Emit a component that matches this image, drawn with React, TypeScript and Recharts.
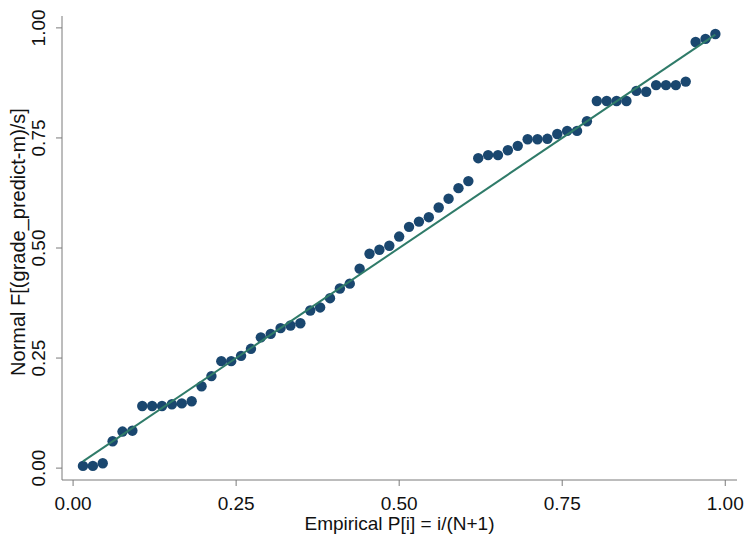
import { ScatterChart, Scatter, XAxis, YAxis } from 'recharts'

// normal F[(grade_predict-m)/s], sorted, one per observation
const normalF = [
  0.005, 0.005, 0.011, 0.061, 0.083, 0.085, 0.141, 0.141, 0.141, 0.145,
  0.147, 0.152, 0.186, 0.209, 0.243, 0.243, 0.255, 0.271, 0.297, 0.305,
  0.318, 0.324, 0.329, 0.358, 0.365, 0.386, 0.408, 0.419, 0.453, 0.487,
  0.496, 0.505, 0.526, 0.548, 0.56, 0.57, 0.592, 0.612, 0.636, 0.652,
  0.704, 0.711, 0.711, 0.722, 0.732, 0.747, 0.747, 0.748, 0.759, 0.766,
  0.766, 0.788, 0.834, 0.834, 0.834, 0.834, 0.857, 0.855, 0.87, 0.87,
  0.87, 0.878, 0.968, 0.975, 0.986,
]
const xTicks = [0, 0.25, 0.5, 0.75, 1]
const yTicks = [0, 0.25, 0.5, 0.75, 1]
const xTitle = 'Empirical P[i] = i/(N+1)'
const yTitle = 'Normal F[(grade_predict-m)/s]'

const n = normalF.length
// empirical P[i] = i/(N+1)
const points = normalF.map((f, i) => ({ p: (i + 1) / (n + 1), f }))
const diagonal = [
  { p: points[0].p, f: points[0].p },
  { p: points[n - 1].p, f: points[n - 1].p },
]

const FONT = 'Liberation Sans, Arial, sans-serif'
const AXIS = '#7a7a7a'
const INK = '#111'

const XTick = (props: any) => {
  const { x, payload } = props
  return (
    <text x={x} y={510} textAnchor="middle" fontSize={19} fontFamily={FONT} fill={INK}>
      {Number(payload.value).toFixed(2)}
    </text>
  )
}

const YTick = (props: any) => {
  const { y, payload } = props
  const x = 45
  return (
    <text
      x={x}
      y={y}
      transform={`rotate(-90 ${x} ${y})`}
      textAnchor="middle"
      fontSize={19}
      fontFamily={FONT}
      fill={INK}
    >
      {Number(payload.value).toFixed(2)}
    </text>
  )
}

const YTitle = () => (
  <text
    x={25}
    y={242}
    transform="rotate(-90 25 242)"
    textAnchor="middle"
    fontSize={20}
    fontFamily={FONT}
    fill={INK}
  >
    {yTitle}
  </text>
)

const XTitle = (props: any) => {
  const vb = props.viewBox || {}
  const cx = (vb.x ?? 62) + (vb.width ?? 675) / 2
  return (
    <text x={cx} y={530} textAnchor="middle" fontSize={19} fontFamily={FONT} fill={INK}>
      {xTitle}
    </text>
  )
}

export default function App() {
  return (
    <div style={{ position: 'absolute', left: 0, top: 0, background: '#fff' }}>
      <ScatterChart
        width={748}
        height={535}
        margin={{ top: 16, right: 11, bottom: 0, left: 0 }}
      >
        <XAxis
          type="number"
          dataKey="p"
          domain={[-0.017, 1.018]}
          ticks={xTicks}
          height={55}
          tickSize={6}
          stroke={AXIS}
          tick={<XTick />}
          label={<XTitle />}
        />
        <YAxis
          type="number"
          dataKey="f"
          domain={[-0.027, 1.027]}
          ticks={yTicks}
          width={62}
          tickSize={6}
          stroke={AXIS}
          tick={<YTick />}
          label={<YTitle />}
        />
        <Scatter
          data={points}
          fill="#1a476f"
          isAnimationActive={false}
          shape={(props: any) => <circle cx={props.cx} cy={props.cy} r={5.2} fill="#1a476f" />}
        />
        <Scatter
          data={diagonal}
          line={{ stroke: '#2f7b69', strokeWidth: 2 }}
          shape={() => <g />}
          isAnimationActive={false}
        />
      </ScatterChart>
    </div>
  )
}
